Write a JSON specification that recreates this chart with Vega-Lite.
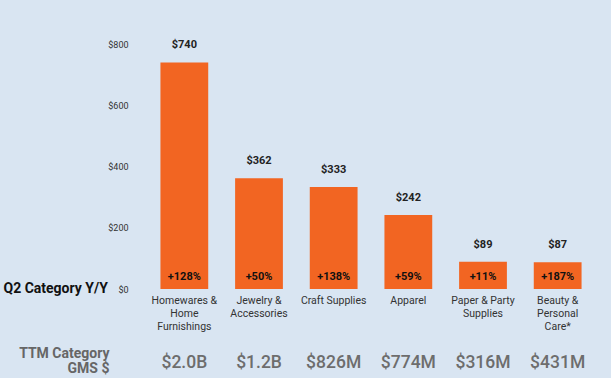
{
  "$schema": "https://vega.github.io/schema/vega-lite/v6.json",
  "background": "#d9e5f2",
  "padding": {"left": 3, "top": 39, "right": 16, "bottom": 0},
  "config": {"view": {"stroke": null}, "font": "Roboto", "concat": {"spacing": 14}},
  "datasets": {
    "cats": [
      {"category": "Homewares &|Home|Furnishings", "gms": 740, "yoy": "+128%", "ttm": "$2.0B", "row": "TTM Category|GMS $"},
      {"category": "Jewelry &|Accessories", "gms": 362, "yoy": "+50%", "ttm": "$1.2B", "row": "TTM Category|GMS $"},
      {"category": "Craft Supplies", "gms": 333, "yoy": "+138%", "ttm": "$826M", "row": "TTM Category|GMS $"},
      {"category": "Apparel", "gms": 242, "yoy": "+59%", "ttm": "$774M", "row": "TTM Category|GMS $"},
      {"category": "Paper & Party|Supplies", "gms": 89, "yoy": "+11%", "ttm": "$316M", "row": "TTM Category|GMS $"},
      {"category": "Beauty &|Personal|Care*", "gms": 87, "yoy": "+187%", "ttm": "$431M", "row": "TTM Category|GMS $"}
    ]
  },
  "vconcat": [
    {
      "width": 448,
      "height": 245,
      "data": {"name": "cats"},
      "encoding": {
        "x": {
          "field": "category", "type": "nominal", "sort": null,
          "scale": {"paddingInner": 0.36, "paddingOuter": 0.18},
          "axis": {
            "title": null, "domain": false, "ticks": false,
            "labelAngle": 0, "labelExpr": "split(datum.label, '|')",
            "labelFontSize": 10.5, "labelColor": "#333333", "labelLineHeight": 13,
            "labelPadding": 6, "labelLimit": 200
          }
        }
      },
      "layer": [
        {
          "mark": {"type": "bar", "color": "#f26522"},
          "encoding": {
            "y": {
              "field": "gms", "type": "quantitative",
              "scale": {"domain": [0, 800]},
              "axis": {
                "values": [0, 200, 400, 600, 800],
                "labelExpr": "'$' + datum.value",
                "grid": false, "domain": false, "ticks": false,
                "labelFontSize": 9, "labelColor": "#333333", "labelPadding": 19,
                "title": "Q2 Category Y/Y", "titleAngle": 0, "titleAlign": "left",
                "titleBaseline": "middle", "titleFontSize": 14, "titleFontWeight": "bold",
                "titleColor": "#111111", "titleX": -144, "titleY": 244
              }
            }
          }
        },
        {
          "mark": {"type": "text", "fontWeight": "bold", "fontSize": 11, "color": "#222222", "baseline": "middle", "dy": -17},
          "encoding": {
            "y": {"field": "gms", "type": "quantitative"},
            "text": {"field": "gms", "type": "quantitative", "format": "$.0f"}
          }
        },
        {
          "mark": {"type": "text", "fontWeight": "bold", "fontSize": 11, "color": "#111111", "baseline": "middle", "dy": -12},
          "encoding": {
            "y": {"datum": 0},
            "text": {"field": "yoy"}
          }
        }
      ]
    },
    {
      "width": 448,
      "height": 30,
      "data": {"name": "cats"},
      "mark": {"type": "text", "fontSize": 17.5, "fontWeight": 500, "color": "#6d6d6d", "baseline": "middle"},
      "encoding": {
        "x": {
          "field": "category", "type": "nominal", "sort": null,
          "scale": {"paddingInner": 0.36, "paddingOuter": 0.18},
          "axis": null
        },
        "y": {
          "field": "row", "type": "nominal",
          "axis": {
            "title": null, "domain": false, "ticks": false,
            "labelExpr": "split(datum.label, '|')",
            "labelFontSize": 14, "labelFontWeight": "bold", "labelColor": "#666666",
            "labelLineHeight": 15, "labelPadding": 38, "labelLimit": 200, "labelOffset": -10
          }
        },
        "text": {"field": "ttm"}
      }
    }
  ]
}
